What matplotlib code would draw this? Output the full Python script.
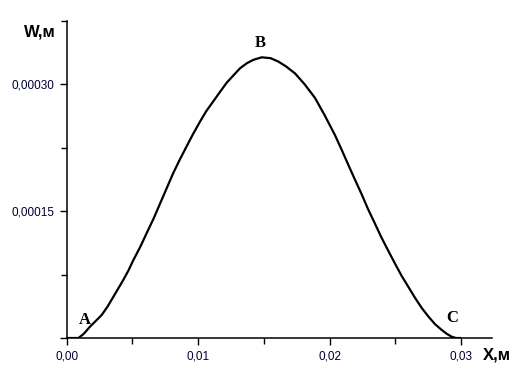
import matplotlib
matplotlib.use('Agg')
import matplotlib.pyplot as plt
from matplotlib.ticker import FixedLocator, FixedFormatter

# deflection curve W(x)
x_m = [0.0, 0.0009, 0.0013, 0.00177, 0.0022, 0.00266, 0.0031, 0.00355, 0.0039,
       0.0043, 0.0047, 0.00507, 0.0056, 0.00608, 0.0066, 0.0071, 0.0076, 0.0081,
       0.0086, 0.00913, 0.0096, 0.01014, 0.0106, 0.01115, 0.0117, 0.01217, 0.0127,
       0.01318, 0.0137, 0.01419, 0.01483, 0.0155, 0.01609, 0.0167, 0.01736, 0.0181,
       0.01888, 0.0196, 0.0204, 0.0209, 0.02141, 0.0219, 0.02243, 0.0229, 0.02345,
       0.0239, 0.02446, 0.025, 0.02547, 0.026, 0.02649, 0.027, 0.0275, 0.028,
       0.02852, 0.0289, 0.02928, 0.0296, 0.0299]
w_m = [0.0, 0.0, 0.000005, 0.0000134, 0.00002, 0.0000272, 0.000037, 0.0000488, 0.000058,
       0.0000686, 0.00008, 0.0000922, 0.000108, 0.000124, 0.000141, 0.000159, 0.000177, 0.000195,
       0.000211, 0.000227, 0.000241, 0.000256, 0.000268, 0.00028, 0.000292, 0.000302, 0.000311,
       0.000319, 0.000325, 0.000329, 0.000332, 0.000331, 0.000327, 0.000321, 0.000313, 0.0003,
       0.000284, 0.000264, 0.00024, 0.000223, 0.000205, 0.000188, 0.00017, 0.000153, 0.000135,
       0.00012, 0.000103, 0.000087, 0.0000735, 0.00006, 0.0000475, 0.0000355, 0.0000255, 0.0000165,
       0.0000095, 0.000005, 0.0000015, 0.0, 0.0]

x_ticks = [0.0, 0.01, 0.02, 0.03]
x_labels = ['0,00', '0,01', '0,02', '0,03']
y_ticks = [0.0, 0.00015, 0.00030]
y_labels = ['', '0,00015', '0,00030']

points = ['A', 'B', 'C']
points_x = [0.0014, 0.0147, 0.0293]
points_w = [0.000012, 0.000339, 0.000014]

fig = plt.figure(figsize=(5.17, 3.73), dpi=100)
ax = fig.add_axes([0.129, 0.0938, 0.8226, 0.85])

ax.plot(x_m, w_m, color='black', lw=1.6, solid_joinstyle='round')

ax.set_xlim(0, 0.03234)
ax.set_ylim(0, 0.000375)

for side in ['top', 'right']:
    ax.spines[side].set_visible(False)
for side in ['left', 'bottom']:
    ax.spines[side].set_linewidth(1.1)

ax.xaxis.set_major_locator(FixedLocator(x_ticks))
ax.xaxis.set_major_formatter(FixedFormatter(x_labels))
ax.xaxis.set_minor_locator(FixedLocator([0.005, 0.015, 0.025]))
ax.yaxis.set_major_locator(FixedLocator(y_ticks))
ax.yaxis.set_major_formatter(FixedFormatter(y_labels))
ax.yaxis.set_minor_locator(FixedLocator([0.000075, 0.000225, 0.000375]))

ax.tick_params(which='major', direction='out', length=5, width=1, pad=4,
               labelsize=8.5, colors='black')
ax.tick_params(which='minor', direction='out', length=4, width=1)
for lab in ax.get_xticklabels() + ax.get_yticklabels():
    lab.set_family('Liberation Sans')
    lab.set_color('#000033')

for name, px, pw in zip(points, points_x, points_w):
    ax.text(px, pw, name, family='Liberation Serif', weight='bold', fontsize=12,
            ha='center', va='bottom')

fig.text(40 / 517, 1 - 32 / 373, 'W,м', family='Liberation Sans', weight='bold',
         fontsize=12, ha='center', va='center')
fig.text(497 / 517, 1 - 355 / 373, 'X,м', family='Liberation Sans', weight='bold',
         fontsize=12, ha='center', va='center')

fig.savefig('out.png', dpi=100)
